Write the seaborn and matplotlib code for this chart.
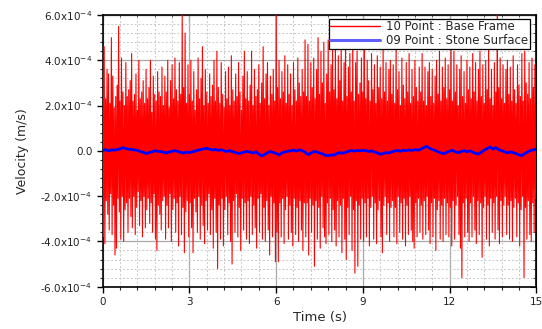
import numpy as np
import pandas as pd
import matplotlib
matplotlib.use('Agg')
import matplotlib.pyplot as plt
from matplotlib.ticker import MultipleLocator, FuncFormatter
import seaborn as sns

# peak values of the red trace (units of 1e-4 m/s), one every 0.05 s
red_upper = [
    4.0, 4.6, 2.3, 3.6, 3.4, 2.1, 5.0, 3.3, 1.9, 2.4, 2.9, 5.5, 2.2, 4.1, 2.6, 2.0, 3.9, 2.4, 2.7, 3.1,
    4.3, 2.2, 2.5, 3.4, 1.8, 4.0, 2.3, 2.6, 3.1, 2.1, 3.6, 2.3, 2.8, 4.0, 1.7, 3.3, 2.5, 2.2, 3.5, 2.6,
    2.4, 3.7, 2.0, 3.3, 2.6, 4.0, 1.9, 3.1, 3.8, 2.3, 4.1, 2.7, 2.2, 3.9, 2.5, 6.0, 2.8, 5.2, 2.1, 3.8,
    2.5, 4.0, 2.2, 3.5, 1.8, 2.7, 4.1, 2.3, 3.2, 4.6, 2.0, 3.6, 2.6, 2.1, 3.4, 2.4, 2.9, 4.0, 2.2, 4.4,
    2.8, 2.1, 3.9, 2.5, 1.9, 3.5, 2.3, 3.7, 2.0, 4.2, 2.7, 2.2, 3.4, 2.4, 3.9, 2.6, 1.8, 3.3, 4.4, 2.3,
    3.5, 2.2, 2.9, 4.4, 2.0, 3.6, 2.4, 2.7, 3.8, 2.1, 3.0, 4.6, 2.3, 3.4, 3.9, 2.0, 3.3, 2.5, 3.6, 2.2,
    6.3, 2.8, 4.0, 2.3, 3.5, 2.6, 4.2, 2.1, 3.8, 2.5, 3.4, 2.0, 3.9, 2.7, 2.2, 4.1, 3.0, 2.4, 3.6, 2.6,
    4.9, 2.4, 4.7, 2.2, 3.9, 2.8, 4.1, 2.3, 3.6, 5.0, 2.5, 4.4, 3.0, 4.8, 2.1, 3.4, 4.9, 2.6, 3.8, 4.5,
    2.7, 4.8, 2.3, 4.2, 3.1, 4.9, 2.2, 3.9, 4.6, 2.4, 3.7, 4.3, 2.6, 4.8, 2.2, 3.9, 4.4, 2.5, 3.0, 4.1,
    2.6, 4.9, 2.3, 4.0, 3.1, 2.2, 4.3, 2.7, 3.8, 2.1, 4.2, 2.8, 3.7, 2.3, 4.5, 2.6, 3.9, 2.2, 3.6, 4.0,
    2.5, 3.8, 2.1, 4.6, 2.7, 3.5, 2.0, 4.1, 2.9, 2.3, 3.9, 2.6, 4.3, 2.1, 3.6, 2.4, 4.0, 2.8, 2.2, 3.7,
    2.6, 4.3, 2.2, 3.7, 2.0, 3.5, 3.9, 2.4, 3.6, 2.1, 3.3, 4.0, 2.5, 4.4, 2.2, 3.7, 2.8, 4.1, 2.3, 3.8,
    2.7, 4.5, 2.2, 4.4, 2.6, 3.8, 2.0, 3.6, 4.2, 2.4, 3.5, 2.1, 4.0, 2.7, 3.7, 2.3, 4.3, 2.6, 3.9, 2.2,
    3.6, 4.4, 2.4, 3.8, 2.1, 4.0, 2.7, 4.7, 2.3, 3.6, 2.0, 3.9, 2.6, 6.3, 2.8, 4.1, 2.3, 3.8, 2.1, 3.6,
    4.0, 2.5, 3.7, 2.2, 4.2, 2.7, 2.1, 3.8, 2.9, 2.4, 4.3, 2.2, 4.4, 3.0, 2.5, 3.9, 2.3, 4.1, 2.8, 3.8,
]
red_lower = [
    -3.8, -4.1, -2.2, -2.8, -3.5, -1.9, -3.7, -2.4, -4.6, -4.3, -2.1, -2.7, -3.9, -2.0, -4.0, -2.6, -2.3, -3.6, -2.1, -2.9,
    -3.4, -2.0, -3.7, -2.5, -1.8, -3.3, -2.2, -3.8, -2.0, -3.4, -2.6, -2.1, -3.2, -2.3, -3.6, -1.9, -3.9, -4.4, -2.4, -2.8,
    -3.5, -2.2, -2.0, -3.9, -2.4, -3.4, -1.9, -4.0, -2.6, -2.1, -3.6, -2.3, -4.2, -2.0, -3.7, -2.5, -4.5, -2.7, -2.2, -3.8,
    -2.3, -3.4, -4.5, -2.1, -2.7, -3.6, -2.0, -3.9, -2.4, -3.3, -4.1, -2.2, -3.5, -1.9, -3.7, -2.6, -4.3, -2.1, -3.6, -5.2,
    -2.4, -3.9, -2.1, -4.2, -2.6, -2.0, -3.7, -2.3, -4.0, -5.0, -2.2, -3.6, -1.9, -3.8, -2.5, -4.4, -2.1, -3.5, -2.3, -3.9,
    -2.2, -4.1, -2.0, -3.7, -2.4, -3.4, -4.3, -2.1, -3.6, -1.9, -3.9, -2.5, -4.0, -2.2, -3.5, -4.6, -2.0, -3.8, -2.3, -4.9,
    -3.6, -4.9, -2.3, -3.8, -2.1, -4.1, -2.6, -2.0, -3.9, -2.4, -3.6, -4.2, -2.1, -3.7, -2.5, -4.0, -2.2, -3.5, -4.4, -2.3,
    -3.8, -2.3, -4.6, -2.1, -3.6, -2.4, -5.1, -2.2, -3.9, -2.5, -4.3, -2.0, -3.4, -3.8, -4.1, -2.3, -3.7, -2.1, -4.0, -2.6,
    -3.5, -4.2, -2.2, -3.8, -2.4, -4.5, -2.1, -3.9, -4.8, -2.5, -3.7, -2.0, -4.4, -2.6, -5.4, -2.2, -5.1, -2.4, -3.9, -2.1,
    -4.0, -2.3, -3.8, -2.1, -4.2, -2.5, -2.0, -3.9, -2.3, -4.1, -2.6, -2.2, -3.8, -4.5, -2.4, -2.0, -3.7, -2.3, -4.0, -2.5,
    -2.2, -3.8, -2.5, -4.1, -2.0, -3.6, -2.3, -3.9, -2.1, -4.2, -2.4, -3.7, -2.0, -3.5, -4.0, -4.3, -2.3, -3.8, -2.1, -3.6,
    -2.4, -3.9, -2.2, -3.7, -2.0, -3.5, -4.1, -2.3, -3.8, -2.1, -4.4, -2.6, -2.2, -3.9, -2.4, -4.0, -2.1, -3.7, -2.3, -3.8,
    -2.5, -4.2, -2.2, -3.9, -2.4, -2.0, -3.7, -4.3, -5.6, -2.3, -3.8, -2.1, -3.6, -4.0, -2.3, -3.8, -2.0, -3.5, -4.1, -2.2,
    -3.7, -2.3, -4.7, -2.5, -2.0, -3.9, -2.4, -4.2, -2.1, -3.6, -2.3, -3.9, -2.0, -3.5, -4.1, -2.2, -3.8, -2.4, -2.0, -3.7,
    -2.4, -3.9, -2.2, -4.0, -2.5, -2.1, -3.8, -2.3, -4.2, -2.6, -2.0, -5.6, -2.5, -3.9, -2.2, -3.7, -4.0, -2.3, -3.6, -2.1,
]
# blue trace (units of 1e-4 m/s), one every 0.1 s
blue_vals = [
    0.02, 0.05, 0.0, 0.04, 0.03, 0.06, 0.08, 0.14, 0.10, 0.07,
    0.06, 0.04, 0.02, -0.03, -0.06, -0.12, -0.08, -0.04, 0.0, -0.02,
    -0.03, -0.06, -0.09, -0.05, -0.02, 0.01, -0.03, -0.07, -0.10, -0.05,
    -0.08, -0.04, -0.01, 0.03, 0.06, 0.09, 0.11, 0.07, 0.04, 0.06,
    0.02, 0.05, 0.0, -0.03, 0.01, -0.04, -0.08, -0.12, -0.09, -0.05,
    -0.02, -0.06, -0.10, -0.04, -0.14, -0.23, -0.16, -0.08, -0.03, -0.07,
    -0.12, -0.18, -0.09, -0.05, -0.02, 0.0, 0.03, -0.01, 0.04, 0.01,
    -0.06, -0.17, -0.10, -0.03, -0.05, -0.09, -0.13, -0.20, -0.21, -0.18,
    -0.19, -0.12, -0.08, -0.11, -0.06, -0.02, 0.01, -0.01, 0.02, 0.0,
    0.02, 0.01, -0.03, 0.0, -0.05, -0.09, -0.15, -0.12, -0.07, -0.10,
    -0.04, -0.01, 0.02, -0.02, 0.03, 0.01, 0.04, 0.02, 0.05, 0.03,
    0.07, 0.14, 0.20, 0.12, 0.06, 0.02, -0.05, -0.09, -0.13, -0.06,
    -0.02, 0.03, -0.05, -0.08, -0.03, 0.01, -0.04, 0.0, -0.06, -0.11,
    -0.14, -0.06, 0.03, 0.10, 0.17, 0.08, 0.14, 0.05, 0.01, -0.04,
    -0.09, -0.05, -0.08, -0.12, -0.18, -0.21, -0.12, -0.05, 0.02, 0.04,
    0.08,
]
red_label = "10 Point : Base Frame"
blue_label = "09 Point : Stone Surface"

# interleave the peaks into one sampled signal
t_up = np.arange(len(red_upper)) * 0.05
t_red = np.column_stack([t_up, t_up + 0.025]).ravel()
v_red = np.column_stack([red_upper, red_lower]).ravel() * 1e-4
red_df = pd.DataFrame({"Time": t_red, "Velocity": v_red})
blue_df = pd.DataFrame({"Time": np.arange(len(blue_vals)) * 0.1,
                        "Velocity": np.array(blue_vals) * 1e-4})

sns.set_style("ticks")
plt.rcParams['font.family'] = ['DejaVu Sans']

fig = plt.figure(figsize=(5.42, 3.29), dpi=100)
ax = fig.add_axes([0.1895, 0.1286, 0.800, 0.8258])

sns.lineplot(data=red_df, x="Time", y="Velocity", color="#ff0000", lw=0.8,
             label=red_label, ax=ax, zorder=3)
sns.lineplot(data=blue_df, x="Time", y="Velocity", color="#0000ff", lw=2.0,
             label=blue_label, ax=ax, zorder=4)

ax.set_xlim(0, 15)
ax.set_ylim(-6e-4, 6e-4)
ax.xaxis.set_major_locator(MultipleLocator(3))
ax.xaxis.set_minor_locator(MultipleLocator(0.6))
ax.yaxis.set_major_locator(MultipleLocator(2e-4))
ax.yaxis.set_minor_locator(MultipleLocator(0.4e-4))


def sci_fmt(v, pos):
    if abs(v) < 1e-9:
        return "0.0"
    return f"{v / 1e-4:.1f}x10$^{{-4}}$"


ax.yaxis.set_major_formatter(FuncFormatter(sci_fmt))

ax.grid(which="major", color="#a8a8a8", lw=0.9, ls="-", zorder=0)
ax.grid(which="minor", color="#c8c8c8", lw=0.7, ls=(0, (2, 2)), zorder=0)
ax.set_axisbelow(True)

ax.tick_params(which="major", direction="out", length=4, width=1, labelsize=7.5,
               colors="black", labelcolor="#222222")
ax.tick_params(which="minor", direction="out", length=2, width=0.8)
for side in ax.spines.values():
    side.set_color("black")
    side.set_linewidth(1.2)

# inward ticks on top and right like the original
top = ax.secondary_xaxis("top")
top.xaxis.set_major_locator(MultipleLocator(3))
top.xaxis.set_minor_locator(MultipleLocator(0.6))
top.tick_params(which="both", direction="in", labeltop=False)
top.tick_params(which="major", length=4)
top.tick_params(which="minor", length=2)
right = ax.secondary_yaxis("right")
right.yaxis.set_major_locator(MultipleLocator(2e-4))
right.yaxis.set_minor_locator(MultipleLocator(0.4e-4))
right.tick_params(which="both", direction="in", labelright=False)
right.tick_params(which="major", length=4)
right.tick_params(which="minor", length=2)

ax.set_xlabel("Time (s)", fontsize=9.5, labelpad=3)
ax.set_ylabel("Velocity (m/s)", fontsize=9, labelpad=8)

leg = ax.legend(loc="upper right", bbox_to_anchor=(0.985, 0.987), fontsize=8.5,
                frameon=True, fancybox=False, framealpha=1, edgecolor="black",
                borderpad=0.15, labelspacing=0.1, handlelength=4.2,
                handletextpad=0.5, borderaxespad=0)
leg.get_frame().set_linewidth(0.9)
leg.get_lines()[0].set_color("#ff0000")
leg.get_lines()[0].set_linewidth(1.0)
leg.get_lines()[1].set_color("#6060ff")
leg.get_lines()[1].set_linewidth(2.2)
leg.set_zorder(10)

fig.savefig("out.png", dpi=100)
